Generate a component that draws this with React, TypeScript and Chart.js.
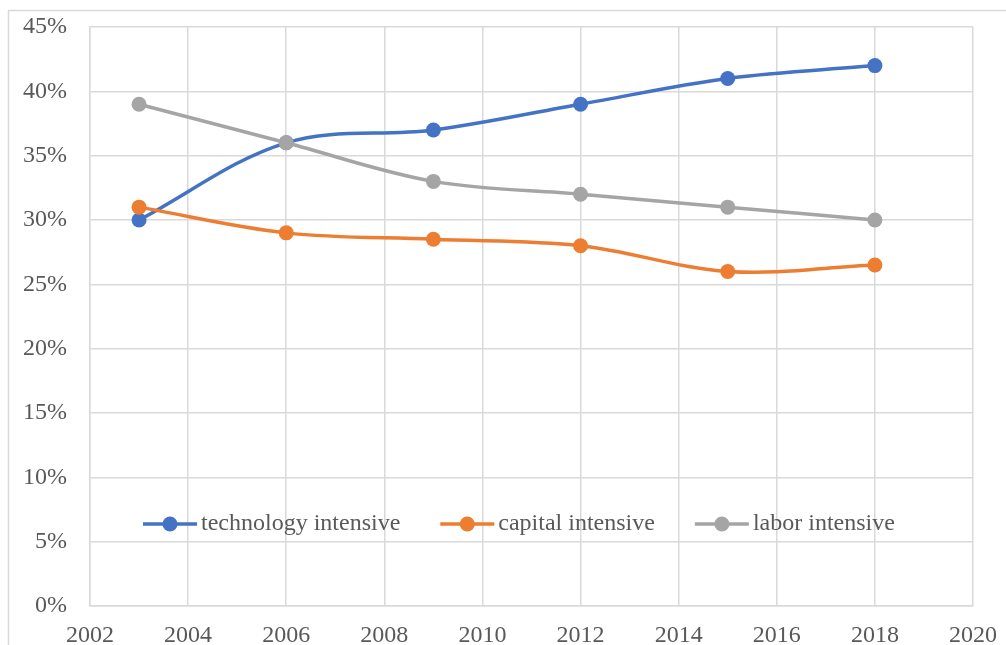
import React, { useEffect, useRef } from "react";
import { Chart, registerables } from "chart.js";

Chart.register(...registerables);

const years = [2003, 2006, 2009, 2012, 2015, 2018];
const technology = [30, 36, 37, 39, 41, 42];
const capital = [31, 29, 28.5, 28, 26, 26.5];
const labor = [39, 36, 33, 32, 31, 30];
const seriesNames = ["technology intensive", "capital intensive", "labor intensive"];
const seriesColors = ["#4472C4", "#ED7D31", "#A5A5A5"];

const FONT_FAMILY = "'Liberation Serif', 'Times New Roman', serif";
const FONT_SIZE = 24;
const TEXT_COLOR = "#595959";
const GRID_COLOR = "#D9D9D9";

const framePlugin = {
  id: "frame",
  beforeDraw(chart: any) {
    const ctx = chart.ctx;
    ctx.save();
    ctx.fillStyle = "#ffffff";
    ctx.fillRect(0, 0, chart.width, chart.height);
    ctx.strokeStyle = GRID_COLOR;
    ctx.lineWidth = 1.5;
    ctx.beginPath();
    ctx.moveTo(8.5, chart.height);
    ctx.lineTo(8.5, 10.5);
    ctx.lineTo(chart.width, 10.5);
    ctx.stroke();
    ctx.restore();
  },
};

const insideLegendPlugin = {
  id: "insideLegend",
  afterDatasetsDraw(chart: any) {
    const ctx = chart.ctx;
    ctx.save();
    ctx.font = `${FONT_SIZE}px ${FONT_FAMILY}`;
    ctx.textBaseline = "middle";
    ctx.textAlign = "left";
    const y = 524;
    let x = 143;
    const lineLen = 54;
    seriesNames.forEach((name, i) => {
      const c = seriesColors[i];
      ctx.strokeStyle = c;
      ctx.lineWidth = 3.5;
      ctx.beginPath();
      ctx.moveTo(x, y);
      ctx.lineTo(x + lineLen, y);
      ctx.stroke();
      ctx.fillStyle = c;
      ctx.beginPath();
      ctx.arc(x + lineLen / 2, y, 7.5, 0, Math.PI * 2);
      ctx.fill();
      ctx.fillStyle = TEXT_COLOR;
      const tx = x + lineLen + 4;
      ctx.fillText(name, tx, y);
      x = tx + ctx.measureText(name).width + 40;
    });
    ctx.restore();
  },
};

export default function App() {
  const ref = useRef<HTMLCanvasElement | null>(null);

  useEffect(() => {
    document.body.style.margin = "0";
    document.body.style.overflow = "hidden";
    if (!ref.current) return;
    const mk = (vals: number[]) => years.map((yr, i) => ({ x: yr, y: vals[i] }));
    const allSeries = [technology, capital, labor];
    const chart = new Chart(ref.current, {
      type: "line",
      data: {
        datasets: allSeries.map((vals, i) => ({
          label: seriesNames[i],
          data: mk(vals),
          borderColor: seriesColors[i],
          backgroundColor: seriesColors[i],
          borderWidth: 3.5,
          pointRadius: 7.5,
          pointHoverRadius: 7.5,
          pointBorderWidth: 0,
          tension: 0.35,
          fill: false,
          order: 3 - i,
        })),
      },
      options: {
        animation: false,
        responsive: false,
        layout: { padding: { top: 27, right: 33, left: 0, bottom: 0 } },
        plugins: {
          legend: { display: false },
          tooltip: { enabled: false },
        },
        scales: {
          x: {
            type: "linear",
            min: 2002,
            max: 2020,
            afterFit: (s: any) => {
              s.height = 39;
              s.paddingLeft = 0;
              s.paddingRight = 0;
            },
            ticks: {
              stepSize: 2,
              padding: 15,
              color: TEXT_COLOR,
              font: { family: FONT_FAMILY, size: FONT_SIZE },
              callback: (v: any) => String(v),
              maxRotation: 0,
            },
            grid: { color: GRID_COLOR, lineWidth: 1.5, drawTicks: false },
            border: { color: GRID_COLOR, width: 1.5 },
          },
          y: {
            min: 0,
            max: 45,
            afterFit: (s: any) => {
              s.width = 90;
              s.paddingTop = 0;
              s.paddingBottom = 0;
            },
            ticks: {
              stepSize: 5,
              padding: 23,
              color: TEXT_COLOR,
              font: { family: FONT_FAMILY, size: FONT_SIZE },
              callback: (v: any) => `${v}%`,
            },
            grid: { color: GRID_COLOR, lineWidth: 1.5, drawTicks: false },
            border: { color: GRID_COLOR, width: 1.5 },
          },
        },
      },
      plugins: [framePlugin, insideLegendPlugin],
    });
    return () => chart.destroy();
  }, []);

  return <canvas ref={ref} width={1006} height={645} style={{ display: "block" }} />;
}
